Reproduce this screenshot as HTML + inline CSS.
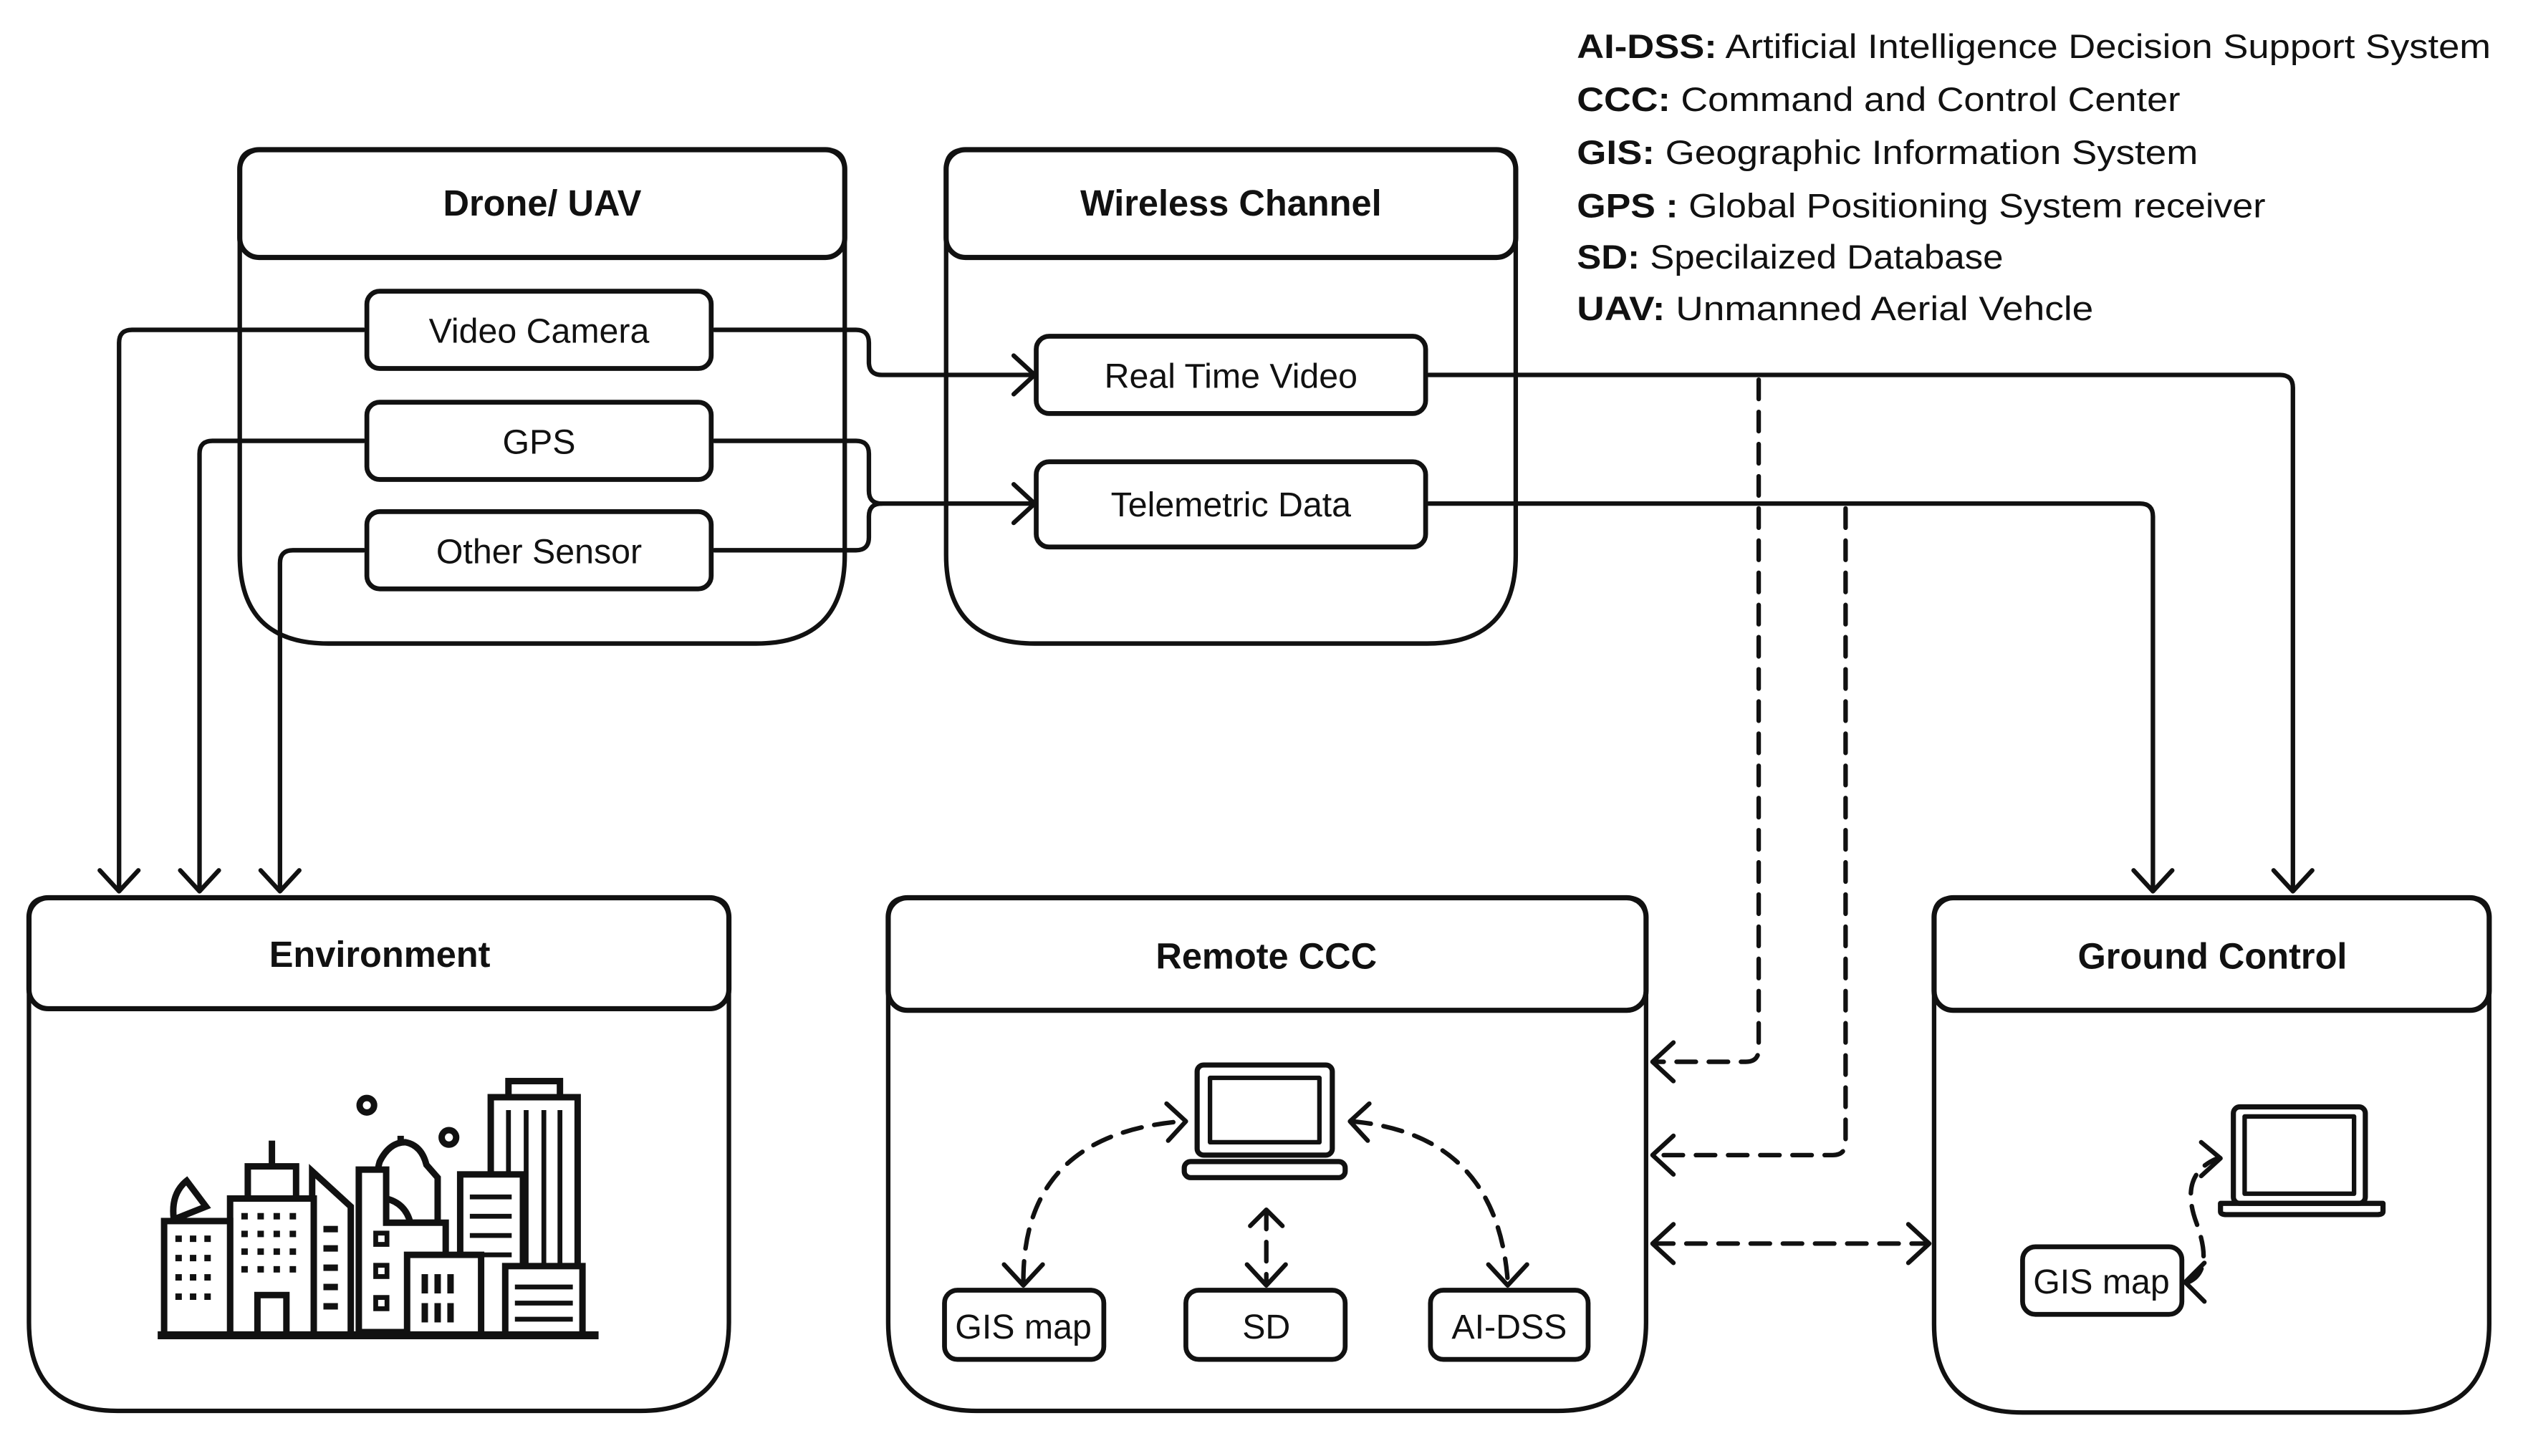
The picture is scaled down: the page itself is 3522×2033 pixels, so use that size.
<!DOCTYPE html>
<html><head><meta charset="utf-8"><style>
html,body{margin:0;padding:0;background:#fff}
svg{display:block}
text{font-family:"Liberation Sans",sans-serif;fill:#111}
</style></head><body>
<svg width="3522" height="2033" viewBox="0 0 1568 905" xmlns="http://www.w3.org/2000/svg">
<g fill="none" stroke="#111" stroke-width="2.8" stroke-linejoin="round" stroke-linecap="round">
<path d="M149,105 Q149,93 161,93 H513 Q525,93 525,105 V345 Q525,400 470,400 H204 Q149,400 149,345 Z"/>
<rect x="149" y="93" width="376" height="67" rx="12" stroke-width="3.2"/>
<path d="M588,105 Q588,93 600,93 H930 Q942,93 942,105 V345 Q942,400 887,400 H643 Q588,400 588,345 Z"/>
<rect x="588" y="93" width="354" height="67" rx="12" stroke-width="3.2"/>
<path d="M18,570 Q18,558 30,558 H441 Q453,558 453,570 V822 Q453,877 398,877 H73 Q18,877 18,822 Z"/>
<rect x="18" y="558" width="435" height="69" rx="12" stroke-width="3.2"/>
<path d="M552,570 Q552,558 564,558 H1011 Q1023,558 1023,570 V822 Q1023,877 968,877 H607 Q552,877 552,822 Z"/>
<rect x="552" y="558" width="471" height="70" rx="12" stroke-width="3.2"/>
<path d="M1202,570 Q1202,558 1214,558 H1535 Q1547,558 1547,570 V823 Q1547,878 1492,878 H1257 Q1202,878 1202,823 Z"/>
<rect x="1202" y="558" width="345" height="70" rx="12" stroke-width="3.2"/>
<rect x="228" y="181" width="214" height="48" rx="8" fill="#fff" stroke-width="3"/>
<rect x="228" y="250" width="214" height="48" rx="8" fill="#fff" stroke-width="3"/>
<rect x="228" y="318" width="214" height="48" rx="8" fill="#fff" stroke-width="3"/>
<rect x="644" y="209" width="242" height="48" rx="8" fill="#fff" stroke-width="3"/>
<rect x="644" y="287" width="242" height="53" rx="8" fill="#fff" stroke-width="3"/>
<rect x="587" y="802" width="99" height="43" rx="8" stroke-width="3"/>
<rect x="737" y="802" width="99" height="43" rx="8" stroke-width="3"/>
<rect x="889" y="802" width="98" height="43" rx="8" stroke-width="3"/>
<rect x="1257" y="775" width="99" height="42" rx="8" stroke-width="3"/>
<path d="M226,205 H82 Q74,205 74,213 V553"/>
<path d="M226,274 H132 Q124,274 124,282 V553"/>
<path d="M226,342 H182 Q174,342 174,350 V553"/>
<path d="M62,541 L74,554 L86,541 M112,541 L124,554 L136,541 M162,541 L174,554 L186,541"/>
<path d="M444,205 H532 Q540,205 540,213 V225 Q540,233 548,233 H642"/>
<path d="M444,274 H532 Q540,274 540,282 V305 Q540,313 548,313 H642"/>
<path d="M444,342 H532 Q540,342 540,334 V321 Q540,313 548,313"/>
<path d="M630,221 L643,233 L630,245 M630,301 L643,313 L630,325"/>
<path d="M888,233 H1417 Q1425,233 1425,241 V553"/>
<path d="M888,313 H1330 Q1338,313 1338,321 V553"/>
<path d="M1413,541 L1425,554 L1437,541 M1326,541 L1338,554 L1350,541"/>
<g stroke-dasharray="12,8">
<path d="M1093,236 V652 Q1093,660 1085,660 H1028"/>
<path d="M1147,316 V710 Q1147,718 1139,718 H1028"/>
<path d="M1028,773 H1198"/>
<path d="M636,796 Q636,705 735,697"/>
<path d="M840,697 Q930,705 937,796"/>
<path d="M787,752 V797"/>
<path d="M1360,797 Q1376,790 1365,760 Q1354,730 1378,720"/>
</g>
<path d="M1040,648 L1027,660 L1040,672 M1040,706 L1027,718 L1040,730 M1040,761 L1027,773 L1040,785 M1186,761 L1199,773 L1186,785"/>
<path d="M624,786 L636,799 L648,786 M725,686 L737,697 L726,709 M851,686 L839,697 L850,709 M925,786 L937,799 L949,786"/>
<path d="M775,786 L787,799 L799,786 M777,762 L787,752 L797,762"/>
<path d="M1368,710 L1380,720 L1368,731 M1370,785 L1358,797 L1370,809"/>
<rect x="744" y="662" width="84" height="56" rx="4" stroke-width="3.2"/>
<rect x="752" y="670" width="68" height="40" stroke-width="2.8"/>
<rect x="736" y="722" width="100" height="10" rx="4" stroke-width="3.2"/>
<rect x="1388" y="688" width="82" height="60" rx="4" stroke-width="3.2"/>
<rect x="1395" y="694" width="68" height="48" stroke-width="2.8"/>
<path d="M1380,748 H1481 V753 Q1481,755 1477,755 H1384 Q1380,755 1380,753 Z" stroke-width="3.2"/>
</g>
<g fill="#fff" stroke="#111" stroke-width="4" stroke-linejoin="miter">
<rect x="316" y="672" width="32" height="10"/>
<rect x="305" y="682" width="54" height="110"/>
<path d="M316,690 V790 M327,690 V790 M338,690 V790 M348,690 V790" stroke-width="3"/>
<rect x="286" y="730" width="39" height="100"/>
<path d="M292,744 H318 M292,756 H318 M292,768 H318 M292,780 H318" stroke-width="3"/>
<path d="M240,745 Q232,735 236,722 Q242,710 252,710 Q262,712 265,724 L272,732 V760 H255 Q252,748 240,745 Z"/>
<path d="M249,706 V711"/>
<path d="M223,828 V727 H240 V760 H277 V828 Z"/>
<rect x="253" y="780" width="46" height="50"/>
<rect x="314" y="787" width="48" height="43"/>
<path d="M320,800 H356 M320,810 H356 M320,820 H356" stroke-width="3"/>
<path d="M194,830 V728 L218,750 V830 Z"/>
<rect x="143" y="745" width="52" height="85"/>
<rect x="154" y="725" width="30" height="20"/>
<path d="M169,709 V725"/>
<rect x="160" y="805" width="18" height="25"/>
<rect x="102" y="759" width="41" height="71"/>
<path d="M108,758 Q106,742 116,734 L128,750 Z"/>
<circle cx="228" cy="687" r="4.5"/>
<circle cx="279" cy="707" r="4.5"/>
<path d="M98,830 H372" stroke-width="5"/>
</g>
<g fill="#111">
<rect x="109" y="768" width="4" height="4"/><rect x="118" y="768" width="4" height="4"/><rect x="127" y="768" width="4" height="4"/>
<rect x="109" y="780" width="4" height="4"/><rect x="118" y="780" width="4" height="4"/><rect x="127" y="780" width="4" height="4"/>
<rect x="109" y="792" width="4" height="4"/><rect x="118" y="792" width="4" height="4"/><rect x="127" y="792" width="4" height="4"/>
<rect x="109" y="804" width="4" height="4"/><rect x="118" y="804" width="4" height="4"/><rect x="127" y="804" width="4" height="4"/>
<rect x="150" y="754" width="4" height="4"/><rect x="160" y="754" width="4" height="4"/><rect x="170" y="754" width="4" height="4"/><rect x="180" y="754" width="4" height="4"/>
<rect x="150" y="765" width="4" height="4"/><rect x="160" y="765" width="4" height="4"/><rect x="170" y="765" width="4" height="4"/><rect x="180" y="765" width="4" height="4"/>
<rect x="150" y="776" width="4" height="4"/><rect x="160" y="776" width="4" height="4"/><rect x="170" y="776" width="4" height="4"/><rect x="180" y="776" width="4" height="4"/>
<rect x="150" y="787" width="4" height="4"/><rect x="160" y="787" width="4" height="4"/><rect x="170" y="787" width="4" height="4"/><rect x="180" y="787" width="4" height="4"/>
<rect x="201" y="762" width="9" height="4"/><rect x="201" y="774" width="9" height="4"/><rect x="201" y="786" width="9" height="4"/><rect x="201" y="798" width="9" height="4"/><rect x="201" y="810" width="9" height="4"/>
<rect x="232" y="765" width="10" height="10"/><rect x="232" y="785" width="10" height="10"/><rect x="232" y="805" width="10" height="10"/>
<rect x="262" y="792" width="4" height="12"/><rect x="270" y="792" width="4" height="12"/><rect x="278" y="792" width="4" height="12"/>
<rect x="262" y="810" width="4" height="12"/><rect x="270" y="810" width="4" height="12"/><rect x="278" y="810" width="4" height="12"/>
</g>
<g fill="#fff"><rect x="235" y="768" width="4" height="4"/><rect x="235" y="788" width="4" height="4"/><rect x="235" y="808" width="4" height="4"/></g>
<g font-size="22.5" text-anchor="middle" font-weight="bold">
<text x="337" y="134">Drone/ UAV</text>
<text x="765" y="134">Wireless Channel</text>
<text x="236" y="601">Environment</text>
<text x="787" y="602">Remote CCC</text>
<text x="1375" y="602">Ground Control</text>
</g>
<g font-size="21.5" text-anchor="middle">
<text x="335" y="213">Video Camera</text>
<text x="335" y="282">GPS</text>
<text x="335" y="350">Other Sensor</text>
<text x="765" y="241">Real Time Video</text>
<text x="765" y="321">Telemetric Data</text>
<text x="636" y="832">GIS map</text>
<text x="787" y="832">SD</text>
<text x="938" y="832">AI-DSS</text>
<text x="1306" y="804">GIS map</text>
</g>
<g font-size="21">
<text x="980" y="36" textLength="568" lengthAdjust="spacingAndGlyphs"><tspan font-weight="bold">AI-DSS:</tspan> Artificial Intelligence Decision Support System</text>
<text x="980" y="69" textLength="375" lengthAdjust="spacingAndGlyphs"><tspan font-weight="bold">CCC:</tspan> Command and Control Center</text>
<text x="980" y="102" textLength="386" lengthAdjust="spacingAndGlyphs"><tspan font-weight="bold">GIS:</tspan> Geographic Information System</text>
<text x="980" y="135" textLength="428" lengthAdjust="spacingAndGlyphs"><tspan font-weight="bold">GPS :</tspan> Global Positioning System receiver</text>
<text x="980" y="167" textLength="265" lengthAdjust="spacingAndGlyphs"><tspan font-weight="bold">SD:</tspan> Specilaized Database</text>
<text x="980" y="199" textLength="321" lengthAdjust="spacingAndGlyphs"><tspan font-weight="bold">UAV:</tspan> Unmanned Aerial Vehcle</text>
</g>
</svg>
</body></html>
